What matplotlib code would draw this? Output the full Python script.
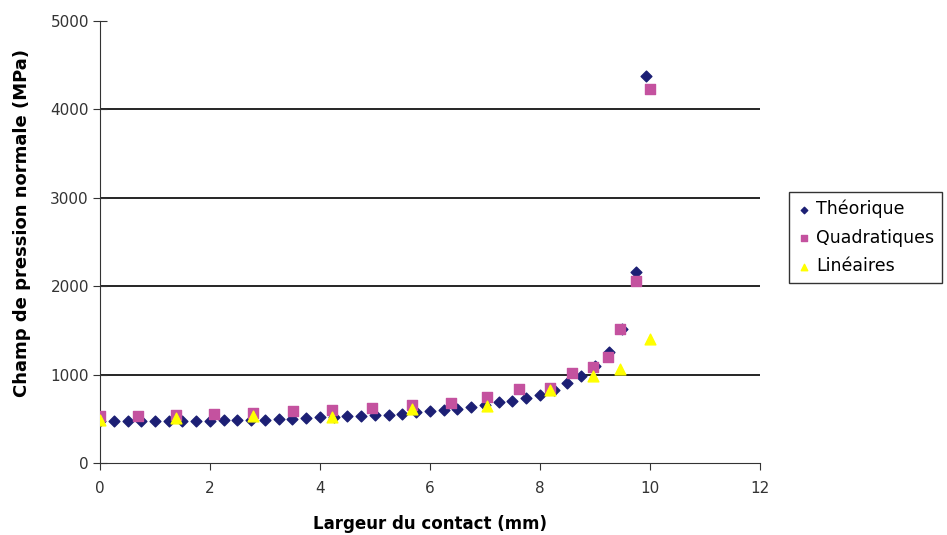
import matplotlib.pyplot as plt

# Théorique (diamonds)
x_theo = [0, 0.25, 0.5, 0.75, 1.0, 1.25, 1.5, 1.75, 2.0, 2.25, 2.5, 2.75, 3.0,
          3.25, 3.5, 3.75, 4.0, 4.25, 4.5, 4.75, 5.0, 5.25, 5.5, 5.75, 6.0,
          6.25, 6.5, 6.75, 7.0, 7.25, 7.5, 7.75, 8.0, 8.25, 8.5, 8.75, 9.0,
          9.25, 9.5, 9.75, 9.93]
y_theo = [480, 470, 470, 470, 470, 470, 470, 470, 475, 485, 485, 490, 490,
          498, 500, 505, 515, 518, 528, 530, 544, 545, 555, 580, 592,
          600, 611, 630, 660, 686, 705, 736, 768, 830, 901, 989, 1094,
          1253, 1518, 2159, 4375]

# Quadratiques (squares)
x_quad = [0, 0.69, 1.38, 2.07, 2.78, 3.51, 4.21, 4.94, 5.67, 6.38, 7.04, 7.62,
          8.19, 8.59, 8.97, 9.23, 9.46, 9.74, 10.0]
y_quad = [536, 536, 544, 555, 562, 585, 604, 618, 660, 675, 751, 838,
          847, 1015, 1091, 1204, 1518, 2064, 4235]

# Linéaires (triangles)
x_lin = [0, 1.38, 2.78, 4.21, 5.67, 7.04, 8.19, 8.97, 9.46, 10.0]
y_lin = [490, 509, 535, 524, 611, 649, 827, 989, 1064, 1404]

x_ticks = [0, 2, 4, 6, 8, 10, 12]
y_ticks = [0, 1000, 2000, 3000, 4000, 5000]

fig = plt.figure(figsize=(9.47, 5.35), dpi=100)
ax = fig.add_axes([0.1056, 0.1346, 0.6969, 0.8261])

ax.scatter(x_theo, y_theo, marker='D', s=30, color='#1c1f74', label='Théorique', zorder=3)
ax.scatter(x_quad, y_quad, marker='s', s=50, color='#c4529f', label='Quadratiques', zorder=4)
ax.scatter(x_lin, y_lin, marker='^', s=60, color='#ffff00', label='Linéaires', zorder=5)

ax.set_xlim(0, 12)
ax.set_ylim(0, 5000)
ax.set_xticks(x_ticks)
ax.set_yticks(y_ticks)
for v in y_ticks[1:-1]:
    ax.axhline(v, color='black', lw=1.2, zorder=1)

ax.spines['top'].set_visible(False)
ax.spines['right'].set_visible(False)
ax.spines['left'].set_color('#333333')
ax.spines['bottom'].set_color('#333333')
ax.tick_params(axis='y', direction='inout', length=10, labelsize=11, colors='#333333', pad=3)
ax.tick_params(axis='x', direction='out', length=5, labelsize=11, colors='#333333', pad=8)

ax.set_xlabel('Largeur du contact (mm)', fontsize=12, fontweight='bold', labelpad=14)
ax.set_ylabel('Champ de pression normale (MPa)', fontsize=13, fontweight='bold')
ax.yaxis.set_label_coords(-0.104, 0.543)

leg = fig.legend(loc='upper left', bbox_to_anchor=(0.833, 0.641), borderaxespad=0,
                 fontsize=12.5, frameon=True, fancybox=False, edgecolor='black',
                 handlelength=0.8, handletextpad=0.3, markerscale=0.6,
                 borderpad=0.45, labelspacing=0.6)
leg.get_frame().set_linewidth(1.0)

fig.savefig('out.png', dpi=100)
